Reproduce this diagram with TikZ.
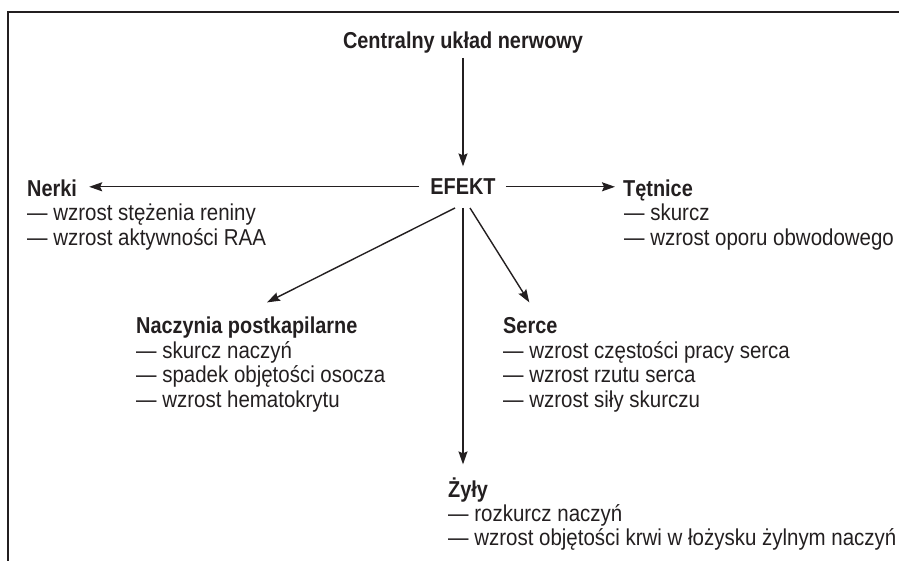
\documentclass[tikz,border=0pt]{standalone}
\usepackage{fontspec}
\setmainfont[FakeStretch=0.89,BoldFeatures={FakeStretch=0.865}]{Liberation Sans}
\usetikzlibrary{arrows.meta,calc}
\definecolor{ink}{RGB}{35,31,32}
\newcommand\ilines[1]{\vtop{\baselineskip=24.5pt\lineskiplimit=-10pt\halign{##\hfil\cr#1\crcr}}}
\begin{document}
\begin{tikzpicture}[x=1pt,y=-1pt,
  txt/.style={inner sep=0pt, anchor=base west, text=ink, font=\fontsize{23}{24.5}\selectfont},
  head/.style={txt, font=\fontsize{23}{24.5}\selectfont\bfseries, text height=16.4pt, text depth=0pt},
  items/.style={txt},
  arr/.style={draw=ink, line width=1.4pt, -{Stealth[length=13pt,width=9pt,inset=2pt]}}]
\useasboundingbox (0,0) rectangle (899,561);
\draw[ink, line width=2pt] (8,561) -- (8,12) -- (899,12);

\node[head, anchor=base] (cun) at (463,49) {Centralny układ nerwowy};
\node[head, anchor=base] (efekt) at (463,195) {EFEKT};
\node[head] (nerki) at (27,197) {Nerki};
\node[items] (nerkil) at (27,221) {\ilines{— wzrost stężenia reniny\cr— wzrost aktywności RAA}};
\node[head] (tetnice) at (623,197) {Tętnice};
\node[items] (tetnicel) at (624,221) {\ilines{— skurcz\cr— wzrost oporu obwodowego}};
\node[head] (nacz) at (136,333) {Naczynia postkapilarne};
\node[items] (naczl) at (136,358) {\ilines{— skurcz naczyń\cr— spadek objętości osocza\cr— wzrost hematokrytu}};
\node[head] (serce) at (503,333) {Serce};
\node[items] (sercel) at (503,358) {\ilines{— wzrost częstości pracy serca\cr— wzrost rzutu serca\cr— wzrost siły skurczu}};
\node[head] (zyly) at (448,497) {Żyły};
\node[items] (zylyl) at (448,521) {\ilines{— rozkurcz naczyń\cr— wzrost objętości krwi w łożysku żylnym naczyń}};

\draw[arr] ($(cun.base)+(0,9)$) -- ($(efekt.north)+(0,-12)$);
\draw[arr] ($(efekt.west)+(-11,0)$) -- ($(nerki.east |- efekt.west)+(12,0)$);
\draw[arr] ($(efekt.east)+(10,0)$) -- ($(tetnice.west |- efekt.east)+(-8,0)$);
\draw[arr] ($(efekt.base)+(-8,13)$) -- ($(nacz.north west)+(131,-14)$);
\draw[arr] ($(efekt.base)+(7,13)$) -- ($(serce.north)+(-1,-14)$);
\draw[arr] ($(efekt.base)+(0,13)$) -- ($(efekt.base |- zyly.north)+(0,-16)$);
\end{tikzpicture}
\end{document}
